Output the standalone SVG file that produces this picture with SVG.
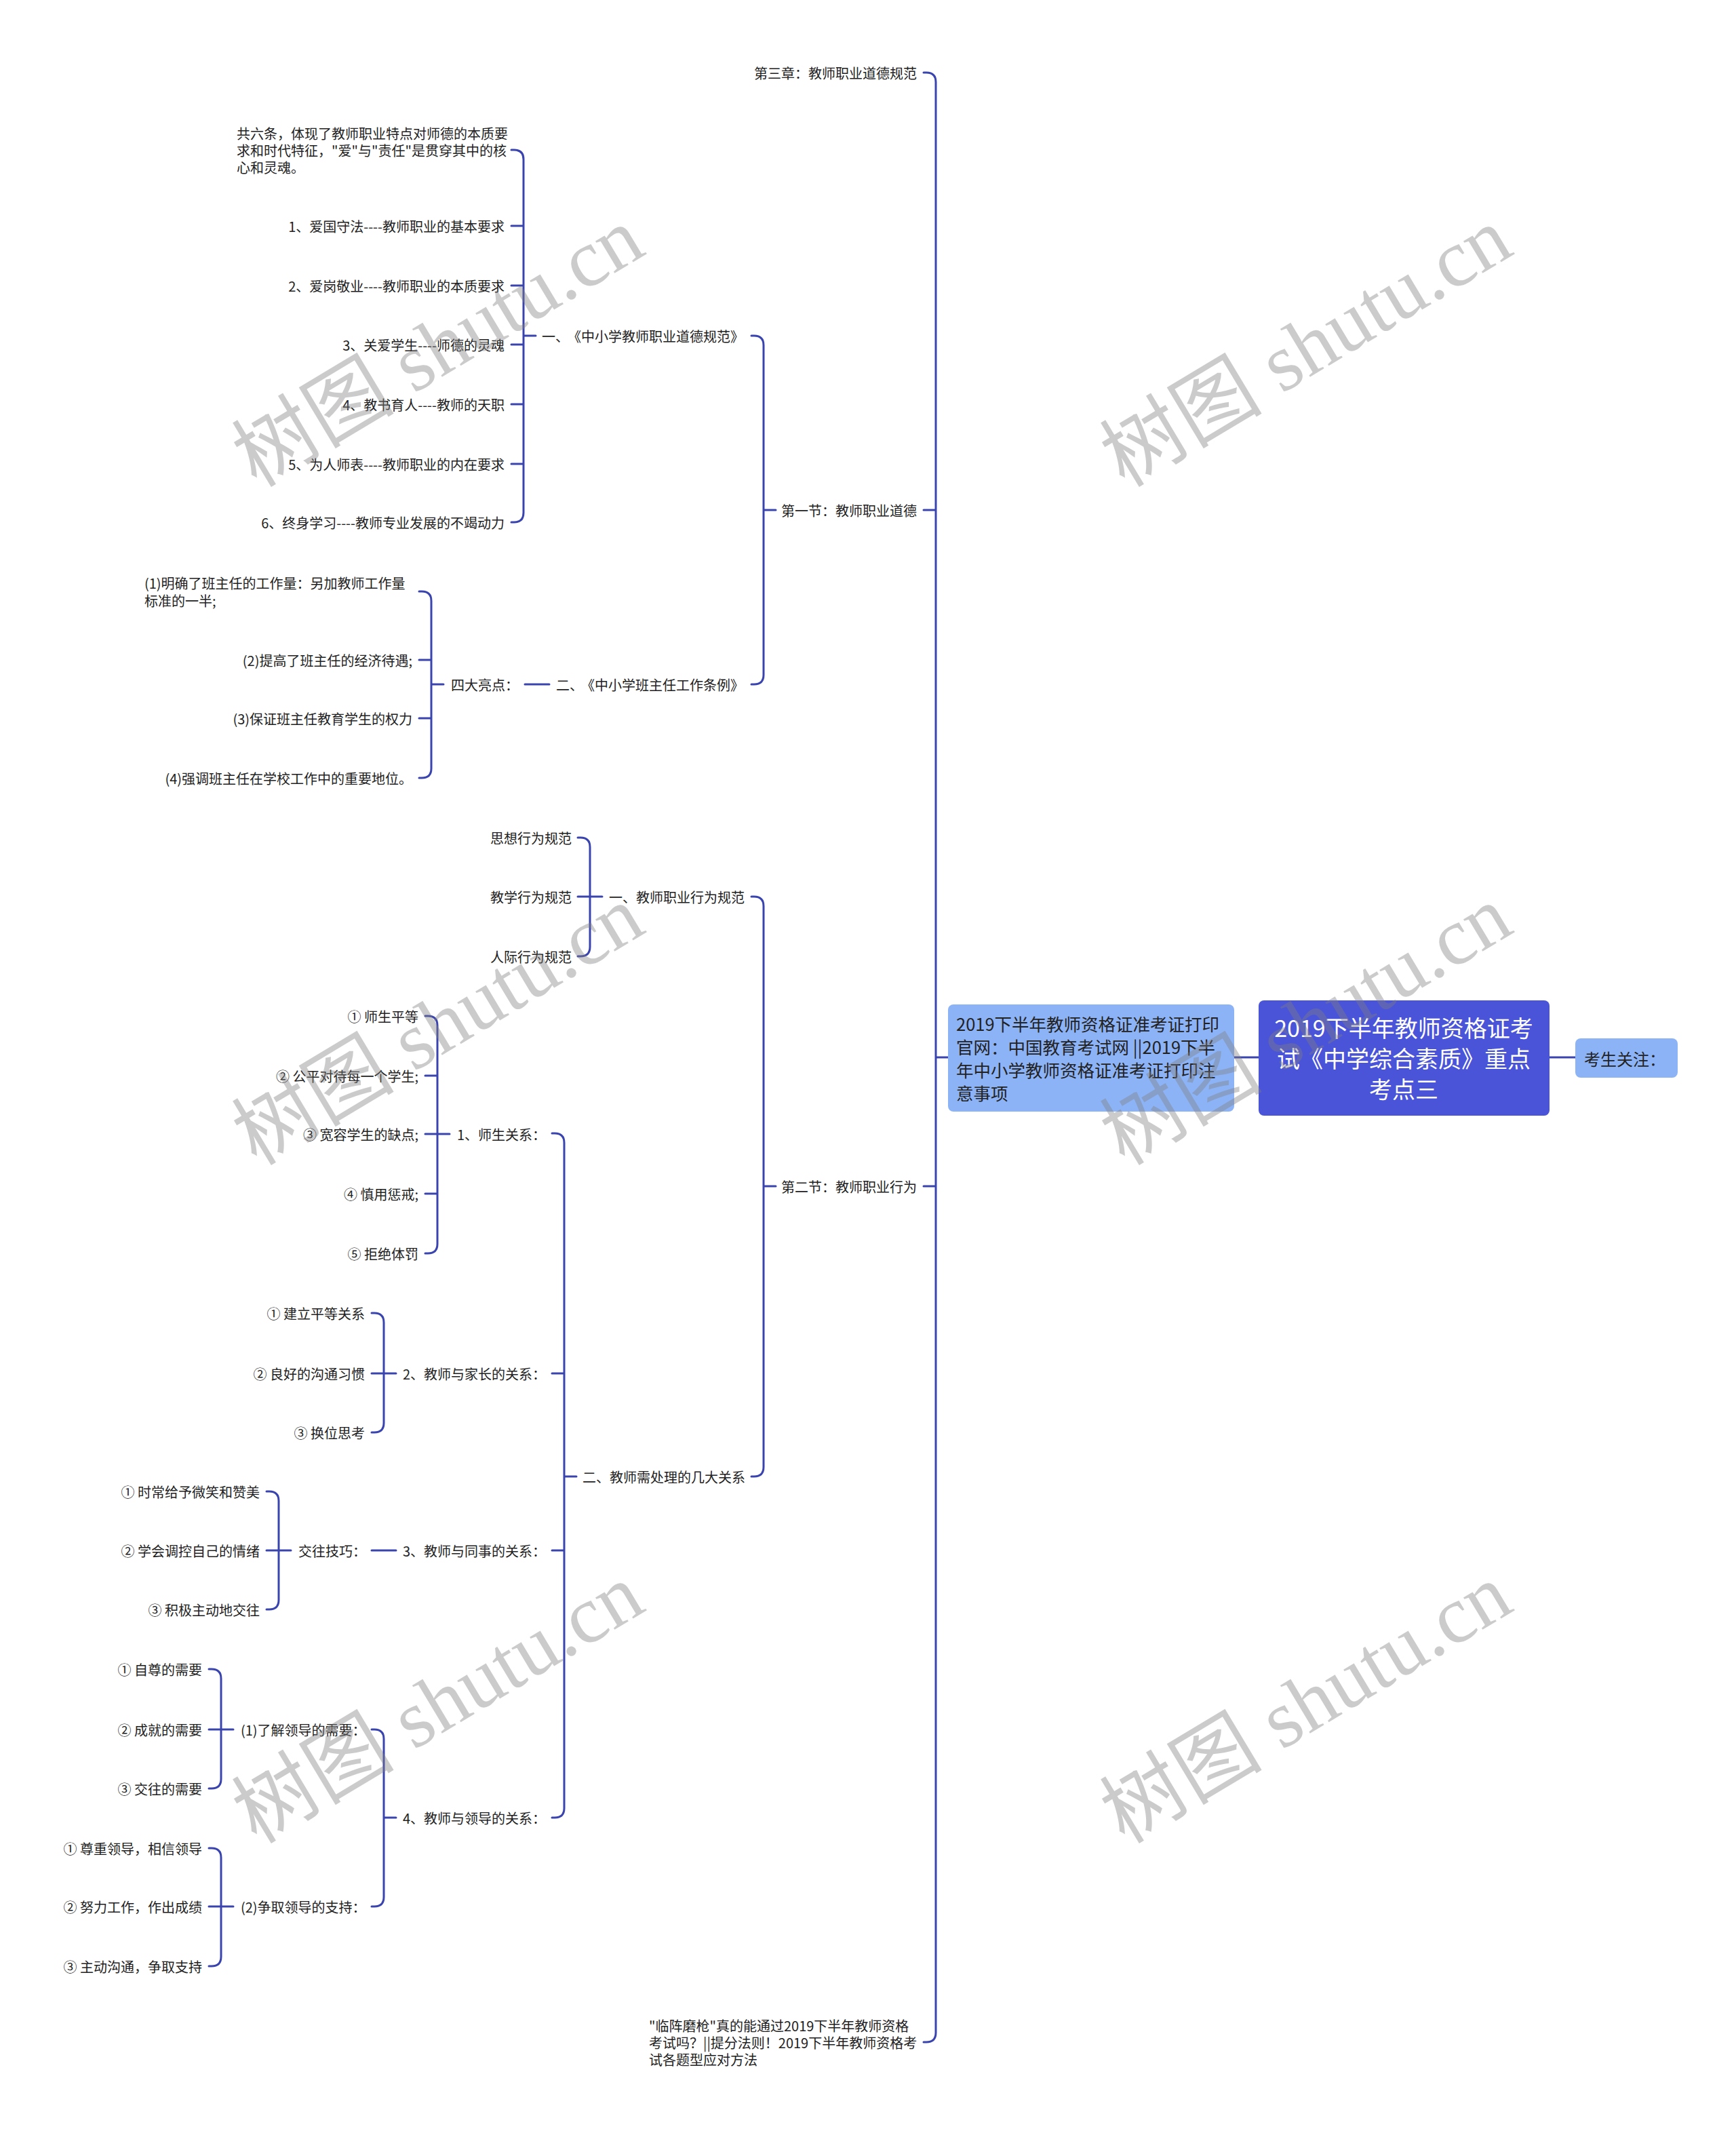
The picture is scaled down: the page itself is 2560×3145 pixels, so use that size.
<svg xmlns="http://www.w3.org/2000/svg" width="2560" height="3145" viewBox="0 0 2560 3145">
<style>
.t{font-family:"Noto Sans CJK SC","Noto Sans",sans-serif;font-size:20px;fill:#222;dominant-baseline:central}
.e{text-anchor:end}
.c{fill:none;stroke:#3A44AE;stroke-width:3;stroke-linecap:round;stroke-linejoin:round}
.lb{fill:#8DB3F7}
.wm{font-family:"Liberation Serif","Noto Sans CJK SC",serif;font-size:120px;fill:#808080;opacity:0.4;text-anchor:middle;dominant-baseline:central}
</style>
<rect width="2560" height="3145" fill="#fff"/>
<g id="connectors">
<path class="c" d="M1362 107 H1366 Q1380 107 1380 121 V2997 Q1380 3011 1366 3011 H1362 M1362 752 H1380 M1362 1749 H1380 M1380 1559 H1398"/>
<path class="c" d="M1820 1559 H1856 M2285 1559 H2323"/>
<path class="c" d="M1108 495 H1112 Q1126 495 1126 509 V995 Q1126 1009 1112 1009 H1108 M1126 752 H1144"/>
<path class="c" d="M754 221 H758 Q772 221 772 235 V756 Q772 770 758 770 H754 M754 333 H772 M754 421 H772 M754 508 H772 M754 596 H772 M754 684 H772 M772 495 H790"/>
<path class="c" d="M774 1009 H810"/>
<path class="c" d="M618 872 H622 Q636 872 636 886 V1133 Q636 1147 622 1147 H618 M618 973 H636 M618 1059 H636 M636 1009 H654"/>
<path class="c" d="M1108 1322 H1112 Q1126 1322 1126 1336 V2163 Q1126 2177 1112 2177 H1108 M1126 1749 H1144"/>
<path class="c" d="M852 1235 H856 Q870 1235 870 1249 V1396 Q870 1410 856 1410 H852 M852 1322 H888"/>
<path class="c" d="M814 1671 H818 Q832 1671 832 1685 V2666 Q832 2680 818 2680 H814 M814 2025 H832 M814 2286 H832 M832 2177 H850"/>
<path class="c" d="M627 1498 H631 Q645 1498 645 1512 V1834 Q645 1848 631 1848 H627 M627 1586 H645 M627 1672 H663 M627 1760 H645"/>
<path class="c" d="M548 1936 H552 Q566 1936 566 1950 V2098 Q566 2112 552 2112 H548 M548 2025 H584"/>
<path class="c" d="M548 2286 H584"/>
<path class="c" d="M393 2199 H397 Q411 2199 411 2213 V2359 Q411 2373 397 2373 H393 M393 2286 H429"/>
<path class="c" d="M548 2550 H552 Q566 2550 566 2564 V2797 Q566 2811 552 2811 H548 M566 2680 H584"/>
<path class="c" d="M308 2461 H312 Q326 2461 326 2475 V2623 Q326 2637 312 2637 H308 M308 2550 H344"/>
<path class="c" d="M308 2725 H312 Q326 2725 326 2739 V2885 Q326 2899 312 2899 H308 M308 2811 H344"/>
</g>
<g id="root">
<rect x="1856" y="1475" width="429" height="170" rx="8" fill="#4A54D8"/>
<text class="t" style="font-size:34px;fill:#fff;text-anchor:middle"><tspan x="2070" y="1514">2019下半年教师资格证考</tspan><tspan x="2070" y="1559">试《中学综合素质》重点</tspan><tspan x="2070" y="1604">考点三</tspan></text>
</g>
<g id="n-kaosheng">
<rect class="lb" x="2323" y="1531" width="151" height="58" rx="8"/>
<text class="t" x="2336" y="1560" style="font-size:24px">考生关注：</text>
</g>
<g id="n-left">
<rect class="lb" x="1398" y="1481" width="422" height="158" rx="8"/>
<text class="t" style="font-size:25.5px"><tspan x="1410" y="1508">2019下半年教师资格证准考证打印</tspan><tspan x="1410" y="1542">官网：中国教育考试网 ||2019下半</tspan><tspan x="1410" y="1576">年中小学教师资格证准考证打印注</tspan><tspan x="1410" y="1610">意事项</tspan></text>
</g>
<g id="n-ch3"><text class="t e" x="1352" y="107">第三章：教师职业道德规范</text></g>
<g id="n-s1"><text class="t e" x="1352" y="752">第一节：教师职业道德</text></g>
<g id="n-s2"><text class="t e" x="1352" y="1749">第二节：教师职业行为</text></g>
<g id="n-bottom"><text class="t"><tspan x="957" y="2986">"临阵磨枪"真的能通过2019下半年教师资格</tspan><tspan x="957" y="3011">考试吗？||提分法则！2019下半年教师资格考</tspan><tspan x="957" y="3036">试各题型应对方法</tspan></text></g>
<g id="n-s1-1"><text class="t" y="495"><tspan x="799">一、</tspan><tspan x="1097" text-anchor="end">《中小学教师职业道德规范》</tspan></text></g>
<g id="n-s1-1-0"><text class="t"><tspan x="349" y="196">共六条，体现了教师职业特点对师德的本质要</tspan><tspan x="349" y="221">求和时代特征，"爱"与"责任"是贯穿其中的核</tspan><tspan x="349" y="246">心和灵魂。</tspan></text></g>
<g id="n-s1-1-1"><text class="t e" x="744" y="333">1、爱国守法----教师职业的基本要求</text></g>
<g id="n-s1-1-2"><text class="t e" x="744" y="421">2、爱岗敬业----教师职业的本质要求</text></g>
<g id="n-s1-1-3"><text class="t e" x="744" y="508">3、关爱学生----师德的灵魂</text></g>
<g id="n-s1-1-4"><text class="t e" x="744" y="596">4、教书育人----教师的天职</text></g>
<g id="n-s1-1-5"><text class="t e" x="744" y="684">5、为人师表----教师职业的内在要求</text></g>
<g id="n-s1-1-6"><text class="t e" x="744" y="770">6、终身学习----教师专业发展的不竭动力</text></g>
<g id="n-s1-2"><text class="t" y="1009"><tspan x="820">二、</tspan><tspan x="1097" text-anchor="end">《中小学班主任工作条例》</tspan></text></g>
<g id="n-s1-2-0"><text class="t" x="665" y="1009">四大亮点：</text></g>
<g id="n-s1-2-1"><text class="t"><tspan x="213" y="859">(1)明确了班主任的工作量：另加教师工作量</tspan><tspan x="213" y="885">标准的一半;</tspan></text></g>
<g id="n-s1-2-2"><text class="t e" x="608" y="973">(2)提高了班主任的经济待遇;</text></g>
<g id="n-s1-2-3"><text class="t e" x="608" y="1059">(3)保证班主任教育学生的权力</text></g>
<g id="n-s1-2-4"><text class="t e" x="608" y="1147">(4)强调班主任在学校工作中的重要地位。</text></g>
<g id="n-s2-1"><text class="t" x="898" y="1322">一、教师职业行为规范</text></g>
<g id="n-s2-1-1"><text class="t e" x="843" y="1235">思想行为规范</text></g>
<g id="n-s2-1-2"><text class="t e" x="843" y="1322">教学行为规范</text></g>
<g id="n-s2-1-3"><text class="t e" x="843" y="1410">人际行为规范</text></g>
<g id="n-s2-2"><text class="t" x="859" y="2177">二、教师需处理的几大关系</text></g>
<g id="n-r1"><text class="t" x="674" y="1672">1、师生关系：</text></g>
<g id="n-r1-1"><text class="t e" x="617" y="1498">① 师生平等</text></g>
<g id="n-r1-2"><text class="t e" x="617" y="1586">② 公平对待每一个学生;</text></g>
<g id="n-r1-3"><text class="t e" x="617" y="1672">③ 宽容学生的缺点;</text></g>
<g id="n-r1-4"><text class="t e" x="617" y="1760">④ 慎用惩戒;</text></g>
<g id="n-r1-5"><text class="t e" x="617" y="1848">⑤ 拒绝体罚</text></g>
<g id="n-r2"><text class="t" x="594" y="2025">2、教师与家长的关系：</text></g>
<g id="n-r2-1"><text class="t e" x="538" y="1936">① 建立平等关系</text></g>
<g id="n-r2-2"><text class="t e" x="538" y="2025">② 良好的沟通习惯</text></g>
<g id="n-r2-3"><text class="t e" x="538" y="2112">③ 换位思考</text></g>
<g id="n-r3"><text class="t" x="594" y="2286">3、教师与同事的关系：</text></g>
<g id="n-r3-0"><text class="t" x="440" y="2286">交往技巧：</text></g>
<g id="n-r3-1"><text class="t e" x="383" y="2199">① 时常给予微笑和赞美</text></g>
<g id="n-r3-2"><text class="t e" x="383" y="2286">② 学会调控自己的情绪</text></g>
<g id="n-r3-3"><text class="t e" x="383" y="2373">③ 积极主动地交往</text></g>
<g id="n-r4"><text class="t" x="594" y="2680">4、教师与领导的关系：</text></g>
<g id="n-r4-1"><text class="t" x="355" y="2550">(1)了解领导的需要：</text></g>
<g id="n-r4-1-1"><text class="t e" x="298" y="2461">① 自尊的需要</text></g>
<g id="n-r4-1-2"><text class="t e" x="298" y="2550">② 成就的需要</text></g>
<g id="n-r4-1-3"><text class="t e" x="298" y="2637">③ 交往的需要</text></g>
<g id="n-r4-2"><text class="t" x="355" y="2811">(2)争取领导的支持：</text></g>
<g id="n-r4-2-1"><text class="t e" x="298" y="2725">① 尊重领导，相信领导</text></g>
<g id="n-r4-2-2"><text class="t e" x="298" y="2811">② 努力工作，作出成绩</text></g>
<g id="n-r4-2-3"><text class="t e" x="298" y="2899">③ 主动沟通，争取支持</text></g>
<g id="watermarks">
<text class="wm" transform="translate(646 512) rotate(-31)">树图 shutu.cn</text>
<text class="wm" transform="translate(1926 512) rotate(-31)">树图 shutu.cn</text>
<text class="wm" transform="translate(646 1512) rotate(-31)">树图 shutu.cn</text>
<text class="wm" transform="translate(1926 1512) rotate(-31)">树图 shutu.cn</text>
<text class="wm" transform="translate(646 2512) rotate(-31)">树图 shutu.cn</text>
<text class="wm" transform="translate(1926 2512) rotate(-31)">树图 shutu.cn</text>
</g>
</svg>
